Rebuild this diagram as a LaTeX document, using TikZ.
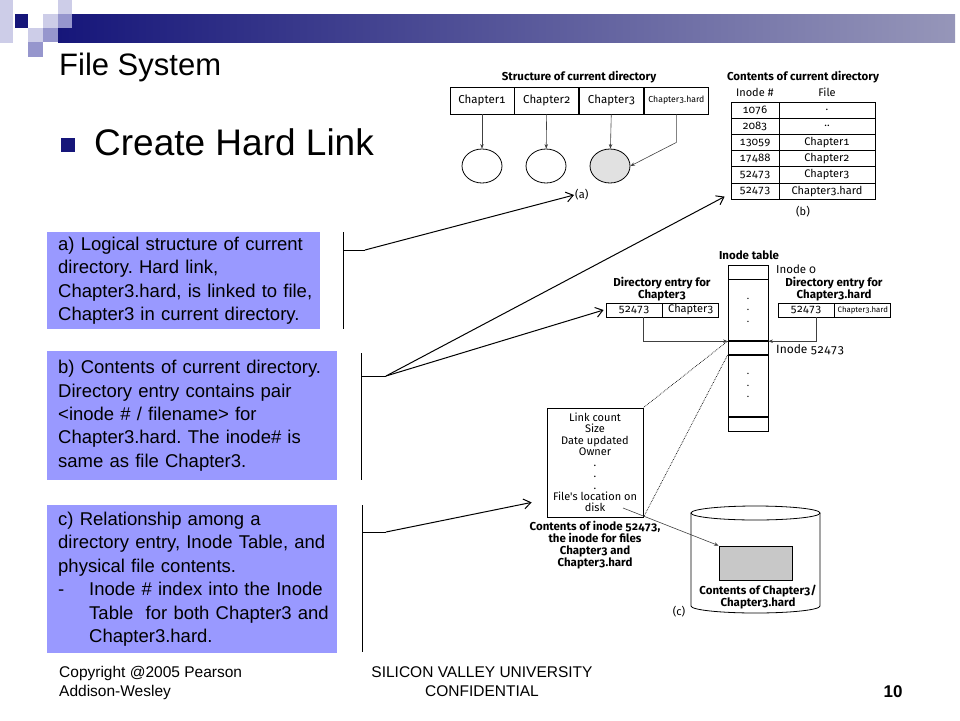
\documentclass[tikz,border=0pt]{standalone}
\usepackage{fontspec}
\setmainfont{Liberation Sans}
\newfontfamily\figfont[Numbers={OldStyle,Monospaced}]{Fira Sans}
\usetikzlibrary{%
  calc,arrows.meta,shapes,%
  positioning}
\tikzset {>=Stealth}
\definecolor{slidenavy}{RGB}{22,22,122}
\definecolor{barend}{RGB}{150,150,185}
\definecolor{lightsq}{RGB}{205,205,232}
\definecolor{midsq}{RGB}{150,150,205}
\definecolor{notebg}{RGB}{153,153,255}
\definecolor{diskgray}{RGB}{200,200,200}
\definecolor{circgray}{RGB}{225,225,225}
\tikzset{
  note/.style={fill=notebg, anchor=north west, inner xsep=11pt, align=left,
    font=\fontsize{18.5}{23.4}\selectfont},
  figtxt/.style={font=\figfont\fontsize{11}{12}\selectfont, inner sep=1pt},
  figbold/.style={font=\figfont\bfseries\fontsize{11.5}{11.8}\selectfont,
    inner sep=1pt, align=center},
  cell/.style={draw, line width=.8pt, minimum width=64pt, minimum height=27pt,
    inner sep=0pt, font=\figfont\fontsize{11.5}{12}\selectfont},
  tcell/.style={draw, line width=.8pt, minimum height=16.2pt, inner sep=0pt,
    font=\figfont\fontsize{11}{12}\selectfont},
  dcell/.style={draw, line width=.8pt, minimum width=56pt, minimum height=14pt,
    inner sep=0pt, font=\figfont\fontsize{11}{12}\selectfont},
  icell/.style={draw, line width=.8pt, minimum width=40pt, inner sep=0pt,
    align=center, font=\figfont\fontsize{10}{11.5}\selectfont},
  figarrow/.style={draw=black!75, line width=.6pt,
    -{Stealth[length=4.5pt,width=3.5pt]}},
  bracket/.style={line width=1pt},
  pointer/.style={line width=1pt, -{Straight Barb[length=7pt,width=10pt]}}
}

\begin{document}
\frenchspacing
\begin{tikzpicture}[x=1pt,y=-1pt]
\useasboundingbox (0,0) rectangle (960,720);

% slide corner and bar
\fill[lightsq] (0,0) rectangle (13,43);
\shade[left color=slidenavy, right color=barend] (58,14) rectangle (955,42);
\fill[slidenavy] (15,14) rectangle (28,28);
\fill[lightsq] (43,14) rectangle (58,28);
\fill[lightsq] (58,0) rectangle (72,14);
\fill[midsq] (58,14) rectangle (72,28);
\fill[lightsq] (28,28) rectangle (43,42);
\fill[midsq] (43,28) rectangle (58,42);
\fill[midsq] (28,42) rectangle (43,57);

% titles
\node[anchor=base west, inner sep=0, font=\fontsize{31}{36}\selectfont]
  (title) at (59,75) {File System};
\node[fill=slidenavy, minimum size=14pt, inner sep=0] (bullet) at (68,145) {};
\node[anchor=base west, inner sep=0, font=\fontsize{37}{42}\selectfont]
  (subtitle) at (94,155) {Create Hard Link};

% notes
\node[note, minimum height=97pt, text width=251pt] (nta) at (47,232)
  {a) Logical structure of current\\ directory. Hard link,\\
   \mbox{Chapter3.hard, is linked to file,}\\
   \mbox{Chapter3 in current directory.}};
\node[note, minimum height=129pt, text width=268pt] (ntb) at (47,351)
  {b) Contents of current directory.\\ Directory entry contains pair\\
   <inode \# / filename> for\\ Chapter3.hard. The inode\# is\\
   same as file Chapter3.};
\node[note, minimum height=148pt, text width=268pt] (ntc) at (47,505)
  {c) Relationship among a\\ \mbox{directory entry, Inode Table, and}\\
   physical file contents.\\
   \makebox[31pt][l]{-}\mbox{Inode \# index into the Inode}\\
   \hspace*{31pt}\mbox{Table\ \ for both Chapter3 and}\\
   \hspace*{31pt}Chapter3.hard.};

% (a) structure of current directory
\node[figbold] (strtitle) at (579,77) {Structure of current directory};
\node[cell] (c1) at (482,100.5) {Chapter1};
\node[cell, right=0pt of c1] (c2) {Chapter2};
\node[cell, right=0pt of c2] (c3) {Chapter3};
\node[cell, right=0pt of c3, font=\figfont\fontsize{8.7}{10}\selectfont] (c4) {Chapter3.hard};
\node[ellipse, draw, line width=.8pt, minimum width=40pt, minimum height=34pt] (o1) at (482,166) {};
\node[ellipse, draw, line width=.8pt, minimum width=40pt, minimum height=34pt] (o2) at (546,166) {};
\node[ellipse, draw, line width=.8pt, fill=circgray, minimum width=40pt, minimum height=34pt] (o3) at (610,166) {};
\draw[figarrow] (c1) -- (o1);
\draw[figarrow] (c2) -- (o2);
\draw[figarrow] (c3) -- (o3);
\draw[figarrow] (c4.south) -- ++(0,28) -- (o3.east);
\node[figtxt, anchor=west] (capa) at (574,195) {(a)};

% (b) contents of current directory
\node[figbold] (tabtitle) at (803,77) {Contents of current directory};
\node[figtxt] (hdinode) at (755,92) {Inode \#};
\node[figtxt] (hdfile) at (827,92) {File};
\foreach \num/\fname [count=\r] in {1076/{.}, 2083/{..}, 13059/Chapter1,
    17488/Chapter2, 52473/Chapter3, 52473/Chapter3.hard}{
  \node[tcell, minimum width=48pt] (in\r) at (755,93.9+16.2*\r) {\num};
  \node[tcell, minimum width=96pt] (fn\r) at (827,93.9+16.2*\r) {\fname};
}
\node[figtxt] (capb) at (803,212) {(b)};

% (c) directory entries, inode table, disk
\node[figbold] (ittitle) at (749,255) {Inode table};
\node[icell, minimum height=14pt] (it0) at (748,272) {};
\node[icell, minimum height=61pt, below=0pt of it0] (itdots1) {.\\.\\.};
\node[icell, minimum height=13pt, below=0pt of itdots1] (it5) {};
\node[icell, minimum height=61pt, below=0pt of it5] (itdots2) {.\\.\\.};
\node[icell, minimum height=14pt, below=0pt of itdots2] (itend) {};
\node[figtxt, anchor=west, inner sep=0, font=\figfont\fontsize{11.5}{12}\selectfont]
  (lblzero) at (776,269) {Inode 0};
\node[figtxt, anchor=west, inner sep=0, font=\figfont\fontsize{12}{13}\selectfont]
  (lblfive) at (776,350) {Inode 52473};

\node[figbold, font=\figfont\bfseries\fontsize{11.5}{11}\selectfont]
  (detitle1) at (662,289) {Directory entry for\\Chapter3};
\node[dcell] (de1) at (634,310) {52473};
\node[dcell, right=0pt of de1] (de2) {Chapter3};
\node[figbold, font=\figfont\bfseries\fontsize{11.5}{11}\selectfont]
  (detitle2) at (834,289) {Directory entry for\\Chapter3.hard};
\node[dcell] (de3) at (806,310) {52473};
\node[dcell, right=0pt of de3, font=\figfont\fontsize{7.8}{9}\selectfont] (de4) {Chapter3.hard};
\draw[figarrow] ([xshift=9pt]de1.south) |- (it5.north west);
\draw[figarrow] ([xshift=10pt]de3.south) |- (it5.north east);

\node[draw, line width=.8pt, minimum width=96pt, minimum height=109pt,
  figtxt, align=center, font=\figfont\fontsize{11}{11.25}\selectfont]
  (ibox) at (595,462.5)
  {Link count\\Size\\Date updated\\Owner\\.\\.\\.\\File's location on\\disk};
\node[figbold, below=3pt of ibox] (ibcap)
  {Contents of inode 52473,\\the inode for files\\Chapter3 and\\Chapter3.hard};
\draw[densely dotted, line width=.7pt] (it5.north west) -- (ibox.north east);
\draw[densely dotted, line width=.7pt] (it5.south west) -- (ibox.south east);

% disk
\draw[line width=.8pt] (691,513) -- (691,606)
  arc[start angle=180, end angle=0, x radius=64.5, y radius=7] -- (820,513);
\draw[line width=.8pt] (755.5,513) ellipse[x radius=64.5, y radius=7];
\node[draw, line width=.8pt, fill=diskgray, minimum width=73pt, minimum height=34pt]
  (ctrect) at (755.5,563) {};
\node[figbold, font=\figfont\bfseries\fontsize{11.5}{11}\selectfont] (ctcap) at (758,597)
  {Contents of Chapter3/\\Chapter3.hard};
\node[figtxt] (capc) at (679,612) {(c)};
\coordinate (locpt) at (623,508);
\draw[figarrow] (locpt) -- (ctrect.north west);

% pointers from the notes
\draw[bracket] (343,232) -- (343,329);
\draw[bracket] (361,353) -- (361,480);
\draw[bracket] (362,505) -- (362,652);
\coordinate (ja) at (365,250);
\coordinate (jb) at (386,376);
\coordinate (jc) at (386,532);
\draw[bracket] (343,250) -- (ja);
\draw[bracket] (361,376) -- (jb);
\draw[bracket] (362,532) -- (jc);
\draw[pointer] (ja) -- (capa.west);
\draw[pointer] (jb) -- ($(in6.south west)+(-6,-3)$);
\draw[pointer] (jb) -- ([xshift=-2pt]de1.west);
\draw[pointer] (jc) -- ($(ibox.south west)+(-15,-15)$);

% footer
\node[anchor=north west, inner sep=0, align=left, font=\fontsize{15.5}{19}\selectfont]
  (copy) at (59,666) {Copyright @2005 Pearson\\Addison-Wesley};
\node[anchor=north, inner sep=0, align=center, font=\fontsize{15.5}{19}\selectfont]
  (conf) at (482,666) {SILICON VALLEY UNIVERSITY\\CONFIDENTIAL};
\node[anchor=base, inner sep=0, font=\bfseries\fontsize{17}{20}\selectfont]
  (pageno) at (893,697) {10};
\end{tikzpicture}
\end{document}
